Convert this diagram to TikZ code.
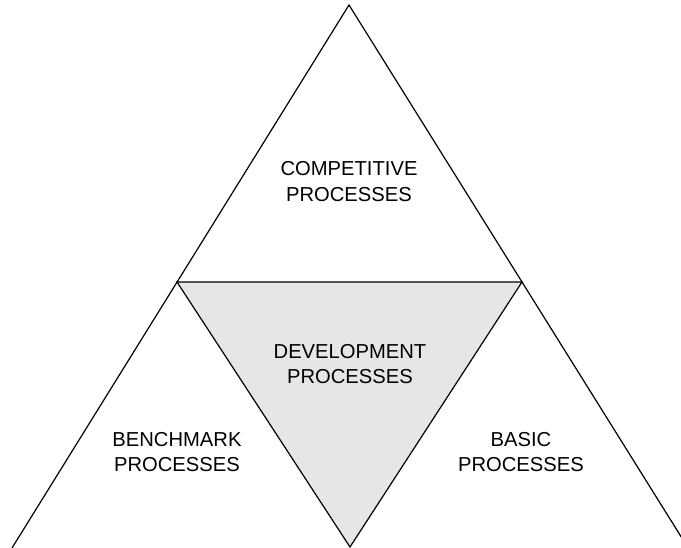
\documentclass[tikz,border=0pt]{standalone}
\usepackage{fontspec}
\setmainfont{Liberation Sans}
\begin{document}
\begin{tikzpicture}[x=1pt,y=1pt,
  edge/.style={draw=black,line width=1.2pt},
  lbl/.style={align=center,font=\fontsize{20.2}{25.5}\selectfont,inner sep=0pt}]
\useasboundingbox (0,0) rectangle (681,548);
\clip (0,0) rectangle (681,548);
\coordinate (A) at (349,543);
\coordinate (L) at (177,266);
\coordinate (R) at (522,266);
\coordinate (B) at (350,1);
\coordinate (BL) at (12,0);
\coordinate (BR) at (690,-3);
\fill[fill={rgb,255:red,230;green,230;blue,230}] (L) -- (R) -- (B) -- cycle;
\draw[edge] (BL) -- (A) -- (BR);
\draw[edge,line join=miter] (L) -- (R) -- (B) -- cycle;
\node[lbl] (comp) at (349,366.5) {COMPETITIVE\\PROCESSES};
\node[lbl] (dev) at (350,184) {DEVELOPMENT\\PROCESSES};
\node[lbl] (bench) at (177,96) {BENCHMARK\\PROCESSES};
\node[lbl] (basic) at (521,96) {BASIC\\PROCESSES};
\end{tikzpicture}
\end{document}
